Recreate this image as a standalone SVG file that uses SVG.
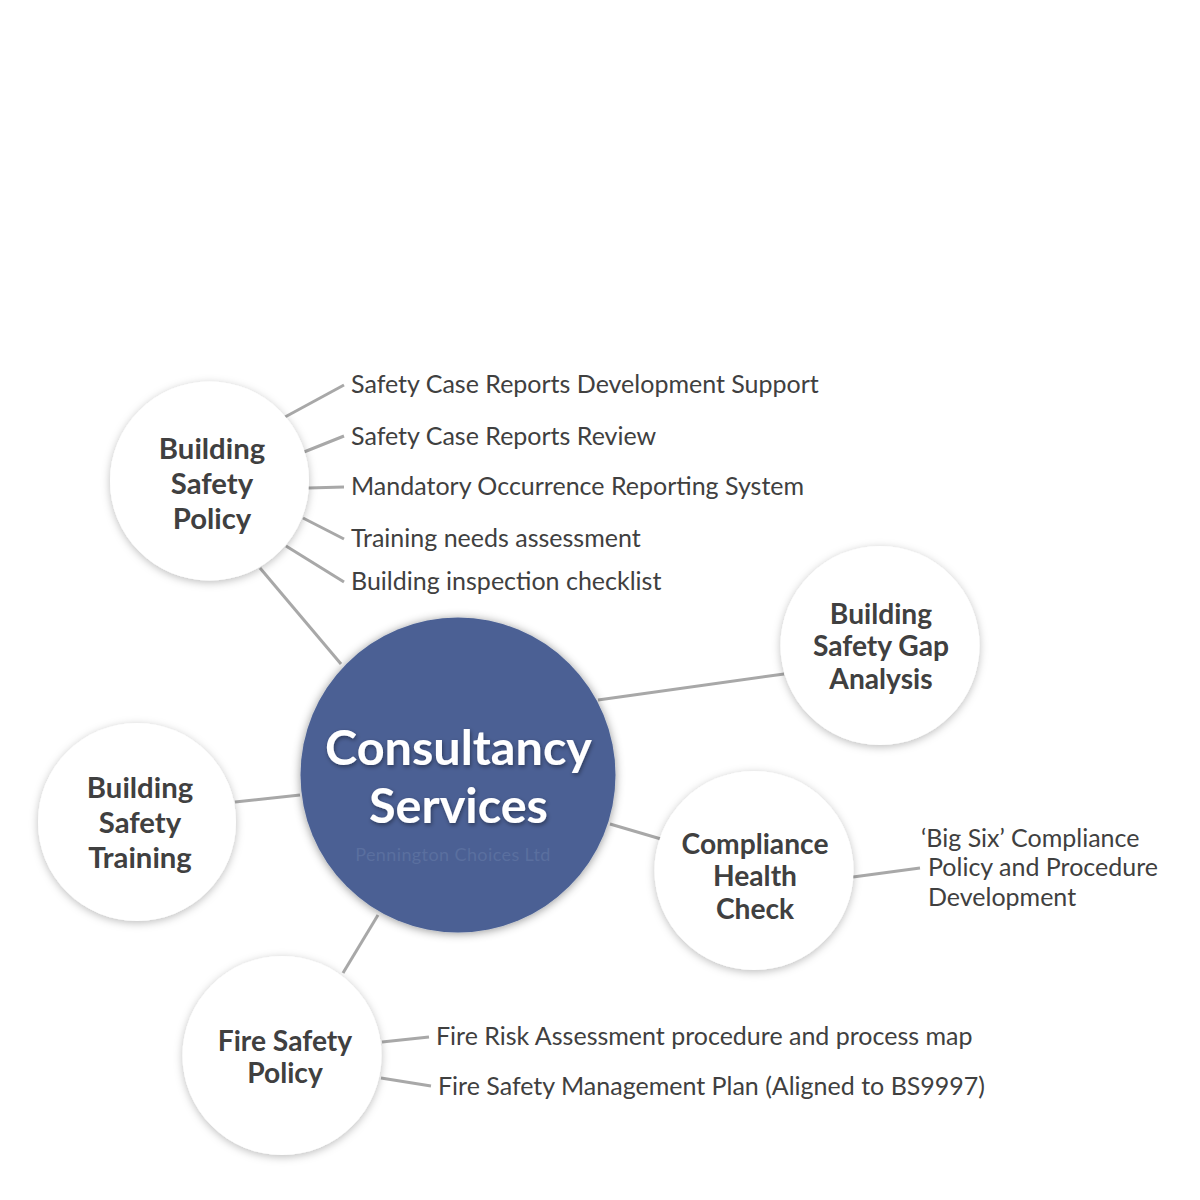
<svg xmlns="http://www.w3.org/2000/svg" width="1200" height="1200" viewBox="0 0 1200 1200">
<style>
.n{fill:#fff;filter:url(#s)}
.c{fill:#4b6194;filter:url(#s2)}
.t{font-family:Lato,"Liberation Sans",sans-serif;font-weight:700;font-size:28.2px;fill:#404040;text-anchor:middle}
.b{font-size:29.3px}
.l{font-family:Lato,"Liberation Sans",sans-serif;font-size:25px;fill:#404040}
.h{font-family:Lato,"Liberation Sans",sans-serif;font-weight:700;font-size:48.6px;fill:#fff;text-anchor:middle;filter:url(#ts)}
.w{font-family:Lato,"Liberation Sans",sans-serif;font-size:18px;fill:#5a6f9f;text-anchor:middle;letter-spacing:.4px}
#connectors line{stroke:#a8a8a8;stroke-width:3}
</style>
<defs>
<filter id="s" x="-20%" y="-20%" width="140%" height="140%"><feDropShadow dx="0" dy="2" stdDeviation="4.5" flood-color="#000" flood-opacity=".26"/></filter>
<filter id="s2" x="-20%" y="-20%" width="140%" height="140%"><feDropShadow dx="0" dy="1" stdDeviation="5" flood-color="#000" flood-opacity=".42"/></filter>
<filter id="ts" x="-20%" y="-20%" width="140%" height="140%"><feDropShadow dx="1" dy="2" stdDeviation="2" flood-color="#000" flood-opacity=".4"/></filter>
</defs>
<rect width="1200" height="1200" fill="#fff"/>
<g id="connectors">
<line x1="285" y1="417" x2="344" y2="385"/>
<line x1="304" y1="452" x2="344" y2="436"/>
<line x1="308" y1="488" x2="344" y2="487"/>
<line x1="303" y1="518" x2="344" y2="539"/>
<line x1="286" y1="546" x2="344" y2="582"/>
<line x1="260" y1="568" x2="341" y2="664"/>
<line x1="598" y1="700" x2="784" y2="674"/>
<line x1="235" y1="802" x2="300" y2="795"/>
<line x1="610" y1="824" x2="661" y2="839"/>
<line x1="853" y1="877" x2="920" y2="868"/>
<line x1="378" y1="915" x2="343" y2="973"/>
<line x1="382" y1="1042" x2="429" y2="1037"/>
<line x1="381" y1="1078" x2="431" y2="1086"/>
</g>
<g id="node-center">
<circle class="c" cx="458" cy="775" r="157.5"/>
<text class="h" x="458.500" y="765">Consultancy</text>
<text class="h" x="458.500" y="823">Services</text>
<text class="w" x="453" y="861">Pennington Choices Ltd</text>
</g>
<g id="node-policy">
<circle class="n" cx="209.500" cy="481" r="99.500"/>
<text class="t b" x="212" y="459">Building</text>
<text class="t b" x="212" y="494">Safety</text>
<text class="t b" x="212" y="529">Policy</text>
</g>
<g id="node-gap">
<circle class="n" cx="880" cy="645.500" r="99.500"/>
<text class="t" x="881" y="624">Building</text>
<text class="t" x="881" y="656">Safety Gap</text>
<text class="t" x="881" y="689">Analysis</text>
</g>
<g id="node-training">
<circle class="n" cx="137" cy="822" r="99"/>
<text class="t b" x="140" y="798">Building</text>
<text class="t b" x="140" y="833">Safety</text>
<text class="t b" x="140" y="868">Training</text>
</g>
<g id="node-health">
<circle class="n" cx="754" cy="870.500" r="99.500"/>
<text class="t" x="755" y="854">Compliance</text>
<text class="t" x="755" y="886">Health</text>
<text class="t" x="755" y="919">Check</text>
</g>
<g id="node-fire">
<circle class="n" cx="282" cy="1055.500" r="99.500"/>
<text class="t" x="285" y="1051">Fire Safety</text>
<text class="t" x="285" y="1083">Policy</text>
</g>
<g id="labels">
<text class="l" x="351" y="393">Safety Case Reports Development Support</text>
<text class="l" x="351" y="445">Safety Case Reports Review</text>
<text class="l" x="351" y="495">Mandatory Occurrence Reporting System</text>
<text class="l" x="351" y="547">Training needs assessment</text>
<text class="l" x="351" y="590">Building inspection checklist</text>
<text class="l" x="921" y="847">‘Big Six’ Compliance</text>
<text class="l" x="928" y="876">Policy and Procedure</text>
<text class="l" x="928" y="906">Development</text>
<text class="l" x="436" y="1045">Fire Risk Assessment procedure and process map</text>
<text class="l" x="438" y="1095">Fire Safety Management Plan (Aligned to BS9997)</text>
</g>
</svg>
